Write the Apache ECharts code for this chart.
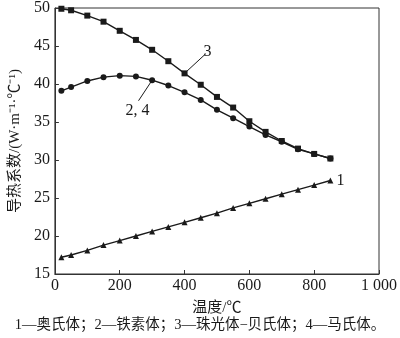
<!DOCTYPE html>
<html>
<head>
<meta charset="utf-8">
<script src="https://cdn.jsdelivr.net/npm/echarts@6/dist/echarts.min.js"></script>
<style>
  html, body { margin: 0; padding: 0; background: #fff; }
  #chart { width: 400px; height: 338px; }
</style>
</head>
<body>
<div id="chart"></div>
<script>
// Temperature (°C) at which each thermal conductivity was measured
const temperatures = [20, 50, 100, 150, 200, 250, 300, 350, 400, 450, 500, 550, 600, 650, 700, 750, 800, 850];

// Thermal conductivity, W·m⁻¹·°C⁻¹
const austenite = [17.2, 17.5, 18.1, 18.8, 19.4, 20.0, 20.6, 21.2, 21.8, 22.4, 23.0, 23.7, 24.3, 24.9, 25.5, 26.1, 26.7, 27.3];
const ferriteMartensite = [39.1, 39.6, 40.4, 40.9, 41.1, 41.0, 40.5, 39.8, 38.9, 37.9, 36.6, 35.5, 34.4, 33.3, 32.4, 31.4, 30.8, 30.2];
const pearliteBainite = [49.9, 49.7, 49.0, 48.2, 47.0, 45.8, 44.5, 43.0, 41.4, 39.9, 38.3, 36.9, 35.1, 33.7, 32.5, 31.5, 30.8, 30.2];

const xTicks = [0, 200, 400, 600, 800, 1000];
const yTicks = [15, 20, 25, 30, 35, 40, 45, 50];

// Leader lines for the curve numbers: [from point], [label anchor], text
const leader3 = { from: [400, 41.4], to: [466, 44.0], text: '3' };
const leader24 = { from: [300, 40.5], to: [258, 37.8], text: '2, 4' };

const serif = '"Liberation Serif", "Noto Sans CJK SC", serif';
const ink = '#1a1a1a';

const pairs = (ys) => temperatures.map((t, i) => [t, ys[i]]);

function leader(l) {
  return {
    silent: true,
    symbol: ['none', 'none'],
    lineStyle: { color: ink, width: 1, type: 'solid' },
    label: {
      show: true, position: 'end', formatter: l.text,
      fontFamily: serif, fontSize: 16, color: ink, distance: 2
    },
    data: [[{ coord: l.from }, { coord: l.to }]]
  };
}

const baseSeries = {
  type: 'line',
  symbolSize: 6,
  lineStyle: { color: ink, width: 1.4 },
  itemStyle: { color: ink },
  animation: false
};

const chart = echarts.init(document.getElementById('chart'), null, { renderer: 'canvas' });
chart.setOption({
  backgroundColor: '#fff',
  animation: false,
  grid: {
    left: 49.5, right: 17, top: 6, bottom: 64,
    show: true, borderColor: '#333', borderWidth: 1
  },
  xAxis: {
    type: 'value', min: 0, max: 1000, interval: 200,
    name: '温度/℃', nameLocation: 'middle', nameGap: 27,
    nameTextStyle: { fontFamily: serif, fontSize: 15, color: ink },
    axisLine: { lineStyle: { color: '#333', width: 1 } },
    axisTick: { inside: true, length: 4, lineStyle: { color: '#333' } },
    splitLine: { show: false },
    axisLabel: {
      margin: 4, fontFamily: serif, fontSize: 16, color: ink,
      customValues: xTicks,
      formatter: (v) => v >= 1000 ? '1 000' : String(v)
    }
  },
  yAxis: {
    type: 'value', min: 15, max: 50, interval: 5,
    name: '导热系数/(W·m⁻¹·℃⁻¹)', nameLocation: 'middle', nameGap: 30,
    nameTextStyle: { fontFamily: serif, fontSize: 15, color: ink },
    axisLine: { show: true, lineStyle: { color: '#333', width: 1 } },
    axisTick: { show: true, inside: true, length: 4, lineStyle: { color: '#333' } },
    splitLine: { show: false },
    axisLabel: { margin: 5, fontFamily: serif, fontSize: 16, color: ink, customValues: yTicks }
  },
  series: [
    Object.assign({}, baseSeries, {
      name: '1', symbol: 'triangle', symbolSize: 6, data: pairs(austenite),
      endLabel: { show: true, formatter: '1', fontFamily: serif, fontSize: 16, color: ink, distance: 6 }
    }),
    Object.assign({}, baseSeries, {
      name: '2, 4', symbol: 'circle', data: pairs(ferriteMartensite),
      markLine: leader(leader24)
    }),
    Object.assign({}, baseSeries, {
      name: '3', symbol: 'rect', data: pairs(pearliteBainite),
      markLine: leader(leader3)
    })
  ],
  graphic: [{
    type: 'text', left: 'center', top: 318,
    style: {
      text: '1—奥氏体；2—铁素体；3—珠光体−贝氏体；4—马氏体。',
      font: '14.5px ' + serif, fill: ink
    }
  }]
});
</script>
</body>
</html>
